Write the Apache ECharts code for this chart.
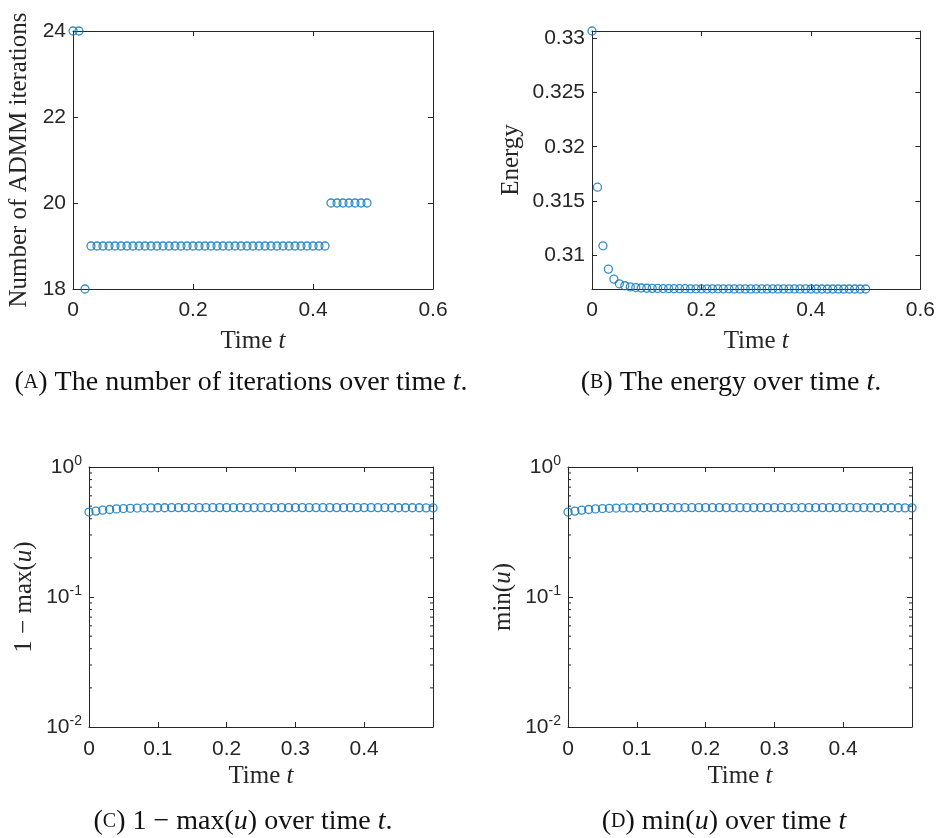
<!DOCTYPE html>
<html>
<head>
<meta charset="utf-8">
<script src="https://cdn.jsdelivr.net/npm/echarts@6/dist/echarts.min.js"></script>
<style>html,body{margin:0;padding:0;background:#fff}#c{width:938px;height:838px}</style>
</head>
<body>
<div id="c"></div>
<script>
// ---- data ----
var timeA = [0,0.01,0.02,0.03,0.04,0.05,0.06,0.07,0.08,0.09,0.10,0.11,0.12,0.13,0.14,0.15,0.16,0.17,0.18,0.19,0.20,0.21,0.22,0.23,0.24,0.25,0.26,0.27,0.28,0.29,0.30,0.31,0.32,0.33,0.34,0.35,0.36,0.37,0.38,0.39,0.40,0.41,0.42,0.43,0.44,0.45,0.46,0.47,0.48,0.49];
var iterations = [24,24,18,19,19,19,19,19,19,19,19,19,19,19,19,19,19,19,19,19,19,19,19,19,19,19,19,19,19,19,19,19,19,19,19,19,19,19,19,19,19,19,19,20,20,20,20,20,20,20];
var timeB = [0,0.01,0.02,0.03,0.04,0.05,0.06,0.07,0.08,0.09,0.10,0.11,0.12,0.13,0.14,0.15,0.16,0.17,0.18,0.19,0.20,0.21,0.22,0.23,0.24,0.25,0.26,0.27,0.28,0.29,0.30,0.31,0.32,0.33,0.34,0.35,0.36,0.37,0.38,0.39,0.40,0.41,0.42,0.43,0.44,0.45,0.46,0.47,0.48,0.49,0.50];
var energy = [0.33064,0.31628,0.31089,0.30875,0.30783,0.30740,0.30722,0.30711,0.30705,0.30701,0.30699,0.30698,0.30697,0.30696,0.30696,0.30695,0.30695,0.30695,0.30694,0.30694,0.30694,0.30694,0.30694,0.30694,0.30694,0.30694,0.30693,0.30693,0.30693,0.30693,0.30693,0.30693,0.30693,0.30693,0.30693,0.30693,0.30693,0.30693,0.30693,0.30693,0.30692,0.30692,0.30692,0.30692,0.30692,0.30692,0.30692,0.30692,0.30692,0.30692,0.30692];
var oneMinusMax = [0.450,0.458,0.466,0.471,0.476,0.479,0.481,0.483,0.484,0.485,0.486,0.486,0.487,0.487,0.487,0.487,0.487,0.487,0.487,0.487,0.487,0.487,0.487,0.487,0.487,0.487,0.487,0.487,0.487,0.487,0.487,0.487,0.487,0.487,0.487,0.487,0.487,0.487,0.487,0.487,0.487,0.487,0.487,0.487,0.486,0.486,0.486,0.486,0.486,0.485,0.485];
var minU = [0.450,0.458,0.466,0.471,0.476,0.479,0.481,0.483,0.484,0.485,0.486,0.486,0.487,0.487,0.487,0.487,0.487,0.487,0.487,0.487,0.487,0.487,0.487,0.487,0.487,0.487,0.487,0.487,0.487,0.487,0.487,0.487,0.487,0.487,0.487,0.487,0.487,0.487,0.487,0.487,0.487,0.487,0.487,0.487,0.486,0.486,0.486,0.486,0.486,0.485,0.485];
var ticksA_x = [0,0.2,0.4,0.6];
var ticksA_y = [18,20,22,24];
var ticksB_y = [0.31,0.315,0.32,0.325,0.33];
var ticksC_x = [0,0.1,0.2,0.3,0.4];
var ticksLog = [0.01,0.1,1];
var minorLog = [0.02,0.03,0.04,0.05,0.06,0.07,0.08,0.09,0.2,0.3,0.4,0.5,0.6,0.7,0.8,0.9];

function zip(a,b){return a.map(function(v,i){return [v,b[i]];});}

var AX = '#262626';
var labelFont = {fontFamily:'Liberation Sans, Arial, sans-serif', fontSize:21, color:AX};
var nameFont = {fontFamily:'Liberation Serif, Times New Roman, serif', fontSize:25, color:AX,
  rich:{i:{fontFamily:'Liberation Serif, serif', fontStyle:'italic', fontSize:25, color:AX}}};

function baseAxis(extra){
  var o = {
    axisLine:{show:true, onZero:false, lineStyle:{color:AX, width:1}},
    splitLine:{show:false},
    nameTextStyle:nameFont
  };
  return Object.assign(o, extra);
}
function mirrorAxis(extra){
  var o = {
    axisLine:{show:true, onZero:false, lineStyle:{color:AX, width:1}},
    splitLine:{show:false},
    axisLabel:{show:false}
  };
  return Object.assign(o, extra);
}
function tick(vals){ return {show:true, inside:true, length:5, lineStyle:{color:AX, width:1}, customValues:vals}; }

var grids = [
  {left:73, top:31, width:360, height:258},
  {left:592, top:31, width:329, height:258},
  {left:89, top:467, width:344, height:260},
  {left:568, top:467, width:344, height:260}
];

var xAxes = [], yAxes = [];
// A
xAxes.push(baseAxis({gridIndex:0, type:'value', min:0, max:0.6, position:'bottom', name:'Time {i|t}', nameLocation:'middle', nameGap:40,
  axisTick:tick(ticksA_x), axisLabel:Object.assign({customValues:ticksA_x, margin:11}, labelFont)}));
xAxes.push(mirrorAxis({gridIndex:0, type:'value', min:0, max:0.6, position:'top', axisTick:tick(ticksA_x)}));
yAxes.push(baseAxis({gridIndex:0, type:'value', min:18, max:24, position:'left', name:'Number of ADMM iterations', nameLocation:'middle', nameGap:41, nameRotate:90,
  axisTick:tick(ticksA_y), axisLabel:Object.assign({customValues:ticksA_y, margin:7}, labelFont)}));
yAxes.push(mirrorAxis({gridIndex:0, type:'value', min:18, max:24, position:'right', axisTick:tick(ticksA_y)}));
// B
xAxes.push(baseAxis({gridIndex:1, type:'value', min:0, max:0.6, position:'bottom', name:'Time {i|t}', nameLocation:'middle', nameGap:40,
  axisTick:tick(ticksA_x), axisLabel:Object.assign({customValues:ticksA_x, margin:11}, labelFont)}));
xAxes.push(mirrorAxis({gridIndex:1, type:'value', min:0, max:0.6, position:'top', axisTick:tick(ticksA_x)}));
yAxes.push(baseAxis({gridIndex:1, type:'value', min:0.30692, max:0.33064, position:'left', name:'Energy', nameLocation:'middle', nameGap:68, nameRotate:90,
  axisTick:tick(ticksB_y),
  axisLabel:Object.assign({customValues:ticksB_y, margin:7, formatter:function(v){return String(+v.toFixed(3));}}, labelFont)}));
yAxes.push(mirrorAxis({gridIndex:1, type:'value', min:0.30692, max:0.33064, position:'right', axisTick:tick(ticksB_y)}));
// C, D
var logLabel = Object.assign({customValues:ticksLog, margin:7,
  formatter:function(v){return '10{sup|' + Math.round(Math.log10(v)) + '}';},
  rich:{sup:{fontFamily:'Liberation Sans, Arial, sans-serif', fontSize:14, color:AX, verticalAlign:'top', padding:[0,0,12,0]}}
}, labelFont);
[2,3].forEach(function(g){
  var yname = g===2 ? '1 − max({i|u})' : 'min({i|u})';
  xAxes.push(baseAxis({gridIndex:g, type:'value', min:0, max:0.5, position:'bottom', name:'Time {i|t}', nameLocation:'middle', nameGap:37,
    axisTick:tick(ticksC_x), axisLabel:Object.assign({customValues:ticksC_x, margin:12}, labelFont)}));
  xAxes.push(mirrorAxis({gridIndex:g, type:'value', min:0, max:0.5, position:'top', axisTick:tick(ticksC_x)}));
  yAxes.push(baseAxis({gridIndex:g, type:'log', logBase:10, min:0.01, max:1, position:'left', name:yname, nameLocation:'middle', nameGap:52, nameRotate:90,
    axisTick:tick(ticksLog), axisLabel:logLabel}));
  yAxes.push(mirrorAxis({gridIndex:g, type:'log', logBase:10, min:0.01, max:1, position:'right', axisTick:tick(ticksLog)}));
});

var markerStyle = {color:'rgba(0,0,0,0)', borderColor:'#0072BD', borderWidth:1.3};
function scatter(xi, yi, data){
  return {type:'scatter', xAxisIndex:xi, yAxisIndex:yi, data:data, symbol:'circle', symbolSize:8,
    itemStyle:markerStyle, clip:false, silent:true, animation:false, emphasis:{disabled:true}};
}
function minorTicks(xi, yi){
  return {type:'custom', xAxisIndex:xi, yAxisIndex:yi, silent:true, animation:false, clip:false,
    data: minorLog.map(function(v){return [0, v];}),
    renderItem:function(params, api){
      var cs = params.coordSys;
      var y = api.coord([0, api.value(1)])[1];
      return {type:'group', children:[
        {type:'line', shape:{x1:cs.x, y1:y, x2:cs.x+3, y2:y}, style:{stroke:AX, lineWidth:1}},
        {type:'line', shape:{x1:cs.x+cs.width-3, y1:y, x2:cs.x+cs.width, y2:y}, style:{stroke:AX, lineWidth:1}}
      ]};
    }};
}

var series = [
  scatter(0, 0, zip(timeA, iterations)),
  scatter(2, 2, zip(timeB, energy)),
  scatter(4, 4, zip(timeB, oneMinusMax)),
  scatter(6, 6, zip(timeB, minU)),
  minorTicks(4, 4),
  minorTicks(6, 6)
];

var capFont = 'Liberation Serif, Times New Roman, serif';
var capRich = {
  sc:{fontFamily:capFont, fontSize:20, color:'#111'},
  i:{fontFamily:capFont, fontStyle:'italic', fontSize:28, color:'#111'},
  n:{fontFamily:capFont, fontSize:28, color:'#111'}
};
function caption(x, y, text){
  return {type:'text', x:x, y:y, silent:true, style:{text:text, rich:capRich, fontFamily:capFont, fontSize:28, fill:'#111', align:'center', verticalAlign:'middle'}};
}

var chart = echarts.init(document.getElementById('c'), null, {renderer:'canvas'});
chart.setOption({
  animation:false,
  backgroundColor:'#fff',
  grid:grids,
  xAxis:xAxes,
  yAxis:yAxes,
  series:series,
  graphic:[
    caption(241, 383, '{n|(}{sc|A}{n|) The number of iterations over time }{i|t}{n|.}'),
    caption(731, 383, '{n|(}{sc|B}{n|) The energy over time }{i|t}{n|.}'),
    caption(243, 822, '{n|(}{sc|C}{n|) 1 − max(}{i|u}{n|) over time }{i|t}{n|.}'),
    caption(724, 822, '{n|(}{sc|D}{n|) min(}{i|u}{n|) over time }{i|t}')
  ]
});
</script>
</body>
</html>
